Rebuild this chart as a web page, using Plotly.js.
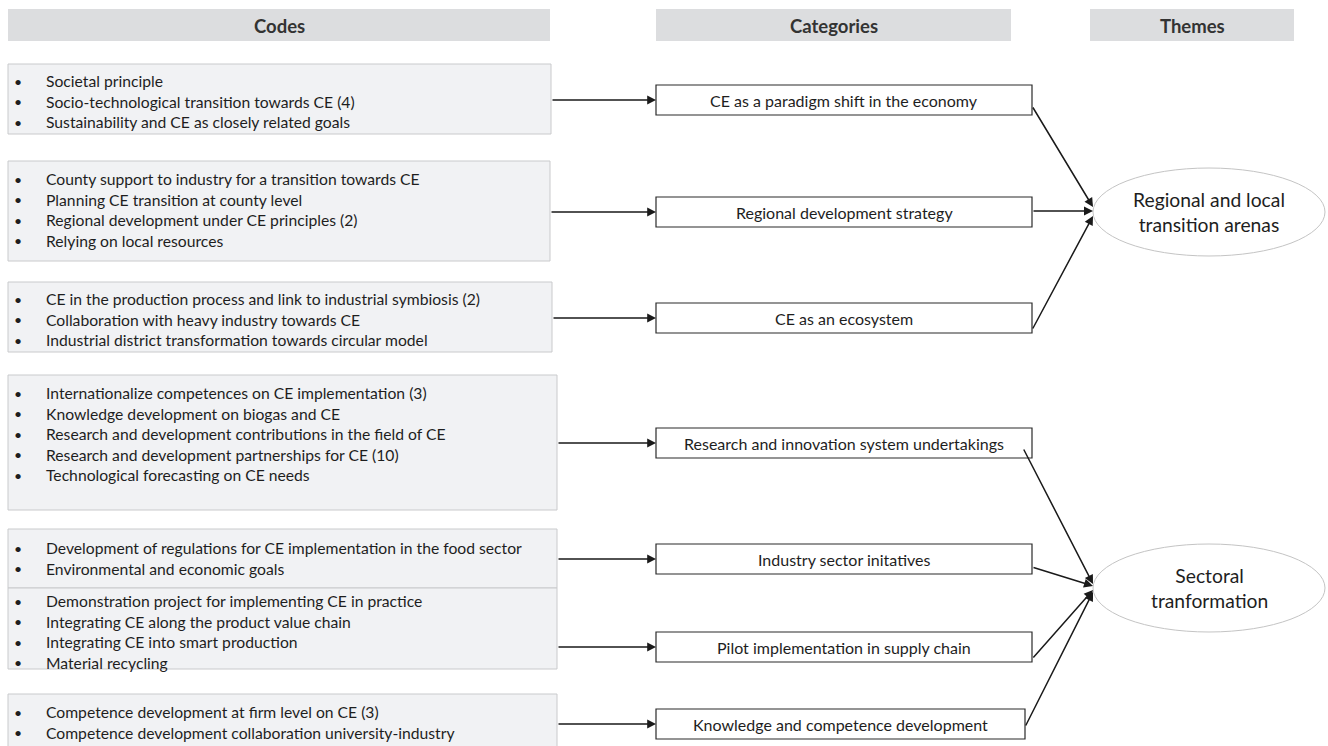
<!DOCTYPE html>
<html><head><meta charset="utf-8">
<script src="https://cdn.plot.ly/plotly-3.0.1.min.js"></script>
<style>html,body{margin:0;padding:0;background:#fff}#c{width:1328px;height:746px}</style>
</head><body><div id="c"></div>
<script>
// ---- data ----
const headers = ["Codes", "Categories", "Themes"];
const codeGroups = [
  ["Societal principle", "Socio-technological transition towards CE (4)", "Sustainability and CE as closely related goals"],
  ["County support to industry for a transition towards CE", "Planning CE transition at county level", "Regional development under CE principles (2)", "Relying on local resources"],
  ["CE in the production process and link to industrial symbiosis (2)", "Collaboration with heavy industry towards CE", "Industrial district transformation towards circular model"],
  ["Internationalize competences on CE implementation (3)", "Knowledge development on biogas and CE", "Research and development contributions in the field of CE", "Research and development partnerships for CE (10)", "Technological forecasting on CE needs"],
  ["Development of regulations for CE implementation in the food sector", "Environmental and economic goals"],
  ["Demonstration project for implementing CE in practice", "Integrating CE along the product value chain", "Integrating CE into smart production", "Material recycling"],
  ["Competence development at firm level on CE (3)", "Competence development collaboration university-industry"]
];
const categories = ["CE as a paradigm shift in the economy", "Regional development strategy", "CE as an ecosystem",
  "Research and innovation system undertakings", "Industry sector initatives", "Pilot implementation in supply chain",
  "Knowledge and competence development"];
const themes = ["Regional and local<br>transition arenas", "Sectoral<br>tranformation"];
const categoryTheme = [0, 0, 0, 1, 1, 1, 1];

// ---- layout geometry (pixels) ----
const headerBoxes = [[8, 550], [656, 1011], [1090, 1294]];
const headerY = [9, 41];
const codeBoxY = [[64, 134], [161, 261], [282, 352], [375, 510], [529, 588], [588, 669], [694, 760]];
const codeBoxRight = [551, 550, 552, 557, 557, 557, 557];
const codeFirstLine = [81, 179, 299, 393, 548, 601, 712];
const lineStep = 20.6;
const catY = [100, 212, 318, 443, 559, 647, 724];
const catRight = [1032, 1032, 1032, 1032, 1032, 1032, 1025];
const catHalfH = 15;
const catLeft = 656;
const themeEll = [{cx: 1209, cy: 212, rx: 116, ry: 44}, {cx: 1209, cy: 588, rx: 116, ry: 44}];
const linkStart = [[1032, 106], [1032, 211], [1032, 330], [1023, 448], [1032, 567], [1032, 659], [1025, 727]];
const linkEnd = [[1093, 207], [1093, 211], [1093, 216], [1093, 584], [1093, 586], [1093, 590], [1093, 592]];

const FONT = "Lato, 'Open Sans', sans-serif";
const TXT = "#1e1e1e";
const shapes = [];
const ann = [];

headers.forEach((h, i) => {
  shapes.push({type: "rect", xref: "x", yref: "y", x0: headerBoxes[i][0], x1: headerBoxes[i][1], y0: headerY[0], y1: headerY[1],
    fillcolor: "#dcdddf", line: {width: 0}, layer: "below"});
  ann.push({x: (headerBoxes[i][0] + headerBoxes[i][1]) / 2, y: (headerY[0] + headerY[1]) / 2 + 1, text: "<b>" + h + "</b>",
    showarrow: false, xanchor: "center", yanchor: "middle", font: {family: FONT, size: 18.5, color: "#333"}});
});

codeGroups.forEach((g, i) => {
  shapes.push({type: "rect", x0: 8, x1: codeBoxRight[i], y0: codeBoxY[i][0], y1: codeBoxY[i][1],
    fillcolor: "#f1f2f4", line: {color: "#c9cacc", width: 1}, layer: "below"});
  g.forEach((t, j) => {
    const y = codeFirstLine[i] + j * lineStep;
    ann.push({x: 18, y: y, text: "•", showarrow: false, xanchor: "center", yanchor: "middle", font: {family: FONT, size: 14, color: TXT}});
    ann.push({x: 44, y: y, text: t, showarrow: false, xanchor: "left", yanchor: "middle", font: {family: FONT, size: 15.7, color: TXT}});
  });
  // arrow code -> category
  ann.push({x: catLeft, y: catY[i], ax: codeBoxRight[i], ay: catY[i], axref: "x", ayref: "y", xref: "x", yref: "y",
    text: "", showarrow: true, arrowhead: 2, arrowsize: 1.1, arrowwidth: 1.6, arrowcolor: "#1a1a1a", standoff: 0, startstandoff: 0});
});

categories.forEach((c, i) => {
  shapes.push({type: "rect", x0: catLeft, x1: catRight[i], y0: catY[i] - catHalfH, y1: catY[i] + catHalfH,
    fillcolor: "#ffffff", line: {color: "#2a2a2a", width: 1.2}});
  ann.push({x: (catLeft + catRight[i]) / 2, y: catY[i], text: c, showarrow: false, xanchor: "center", yanchor: "middle",
    font: {family: FONT, size: 16, color: TXT}});
  ann.push({x: linkEnd[i][0], y: linkEnd[i][1], ax: linkStart[i][0], ay: linkStart[i][1], axref: "x", ayref: "y", xref: "x", yref: "y",
    text: "", showarrow: true, arrowhead: 2, arrowsize: 1.2, arrowwidth: 1.5, arrowcolor: "#1a1a1a", standoff: 0, startstandoff: 0});
});

themes.forEach((t, i) => {
  const e = themeEll[i];
  shapes.push({type: "circle", x0: e.cx - e.rx, x1: e.cx + e.rx, y0: e.cy - e.ry, y1: e.cy + e.ry,
    fillcolor: "#ffffff", line: {color: "#c4c4c4", width: 1}, layer: "below"});
  ann.push({x: e.cx, y: e.cy, text: t, showarrow: false, xanchor: "center", yanchor: "middle",
    font: {family: FONT, size: 19.3, color: TXT}});
});

Plotly.newPlot("c", [], {
  width: 1328, height: 746, margin: {l: 0, r: 0, t: 0, b: 0},
  paper_bgcolor: "#fff", plot_bgcolor: "#fff",
  xaxis: {range: [0, 1328], visible: false, fixedrange: true},
  yaxis: {range: [746, 0], visible: false, fixedrange: true},
  shapes: shapes, annotations: ann, showlegend: false
}, {staticPlot: true});
</script></body></html>
